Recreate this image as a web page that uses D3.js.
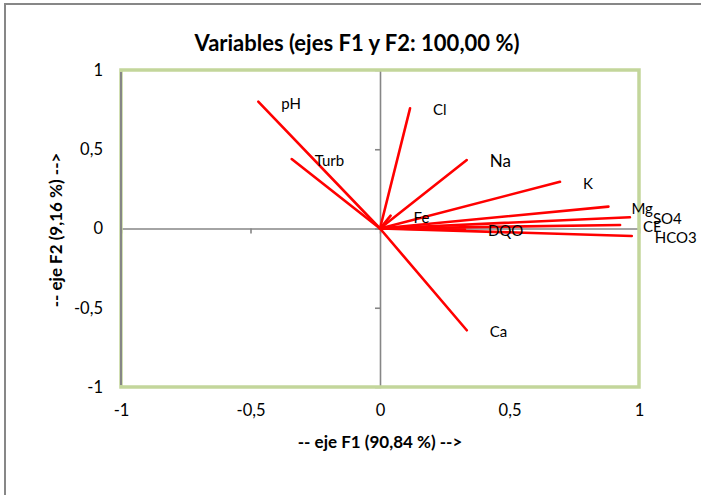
<!DOCTYPE html>
<html>
<head>
<meta charset="utf-8">
<script src="https://cdn.jsdelivr.net/npm/d3@7"></script>
<style>
  html, body { margin: 0; padding: 0; background: #fff; }
  svg { display: block; font-family: Lato, "Open Sans", sans-serif; }
</style>
</head>
<body>
<svg id="chart" width="701" height="495"></svg>
<script>
// Correlation circle loadings (F1, F2) for each variable
const variables = ["pH", "Turb", "Cl", "Na", "K", "Mg", "SO4", "CE", "HCO3", "DQO", "Fe", "Ca"];
const f1 = [-0.470, -0.341, 0.116, 0.335, 0.695, 0.882, 0.965, 0.927, 0.972, 0.328, 0.041, 0.335];
const f2 = [0.800, 0.438, 0.758, 0.432, 0.295, 0.138, 0.071, 0.022, -0.047, -0.006, 0.081, -0.642];
const tickValues = [-1, -0.5, 0, 0.5, 1];

const title = "Variables (ejes F1 y F2: 100,00 %)";
const xTitle = "-- eje F1 (90,84 %) -->";
const yTitle = "-- eje F2 (9,16 %) -->";

const svg = d3.select("#chart");
const W = 701, H = 495;
const plot = { left: 121, right: 639, top: 70, bottom: 387 };

const x = d3.scaleLinear().domain([-1, 1]).range([plot.left, plot.right]);
const y = d3.scaleLinear().domain([-1, 1]).range([plot.bottom, plot.top]);

const fmt = d3.formatLocale({ decimal: ",", thousands: ".", grouping: [3], currency: ["", ""], minus: "-" }).format("");

// background and outer chart frame
svg.append("rect").attr("width", W).attr("height", H).attr("fill", "#fff");
svg.append("rect").attr("x", 5).attr("y", 4).attr("width", 760).attr("height", 560)
  .attr("fill", "none").attr("stroke", "#878787").attr("stroke-width", 2);

// title
svg.append("text").attr("x", 357).attr("y", 51).attr("text-anchor", "middle")
  .attr("font-weight", "bold").attr("font-size", 22).attr("fill", "#000").text(title);

// axes through the origin (ticks only)
const axisColor = "#868686";
const yAxis = svg.append("g").attr("transform", `translate(${x(0)},0)`)
  .call(d3.axisLeft(y).tickValues(tickValues).tickSize(5).tickFormat(""));
const xAxis = svg.append("g").attr("transform", `translate(0,${y(0)})`)
  .call(d3.axisBottom(x).tickValues(tickValues).tickSize(5).tickFormat(""));
[xAxis, yAxis].forEach(g => {
  g.select(".domain").attr("stroke", axisColor).attr("stroke-width", 1.6);
  g.selectAll(".tick line").attr("stroke", axisColor).attr("stroke-width", 1.6);
});
// hide the end ticks at the plot edges
xAxis.selectAll(".tick").filter(d => Math.abs(d) === 1).remove();
yAxis.selectAll(".tick").filter(d => Math.abs(d) === 1).remove();

// plot area border
svg.append("rect").attr("x", plot.left).attr("y", plot.top)
  .attr("width", plot.right - plot.left).attr("height", plot.bottom - plot.top)
  .attr("fill", "none").attr("stroke", "#c3d69b").attr("stroke-width", 3.5);
// left axis line
svg.append("line").attr("x1", plot.left).attr("x2", plot.left)
  .attr("y1", plot.top + 2).attr("y2", plot.bottom - 2)
  .attr("stroke", axisColor).attr("stroke-width", 2);

// tick labels
const yLab = svg.append("g").attr("transform", `translate(${plot.left},0)`)
  .call(d3.axisLeft(y).tickValues(tickValues).tickSize(0).tickPadding(18).tickFormat(fmt));
const xLab = svg.append("g").attr("transform", `translate(0,${plot.bottom})`)
  .call(d3.axisBottom(x).tickValues(tickValues).tickSize(0).tickPadding(17).tickFormat(fmt));
[yLab, xLab].forEach(g => {
  g.select(".domain").remove();
  g.selectAll("text").attr("font-family", "Lato, 'Open Sans', sans-serif")
    .attr("font-size", 16.5).attr("fill", "#000");
});

// axis titles
svg.append("text").attr("x", 380).attr("y", 448).attr("text-anchor", "middle")
  .attr("font-weight", "bold").attr("font-size", 17).text(xTitle);
svg.append("text").attr("transform", "translate(62,230) rotate(-90)")
  .attr("text-anchor", "middle").attr("font-weight", "bold").attr("font-size", 17).text(yTitle);

// loading vectors
const data = variables.map((v, i) => ({ name: v, f1: f1[i], f2: f2[i] }));
svg.append("g").selectAll("line").data(data).join("line")
  .attr("x1", x(0)).attr("y1", y(0))
  .attr("x2", d => x(d.f1)).attr("y2", d => y(d.f2))
  .attr("stroke", "#ff0000").attr("stroke-width", 2.6).attr("stroke-linecap", "round");

// variable labels
const bigLabels = new Set(["Na"]);
svg.append("g").selectAll("text").data(data).join("text")
  .attr("x", d => x(d.f1) + 23).attr("y", d => y(d.f2) + 7)
  .attr("font-size", d => bigLabels.has(d.name) ? 17 : 15)
  .attr("fill", "#000").text(d => d.name);
</script>
</body>
</html>
